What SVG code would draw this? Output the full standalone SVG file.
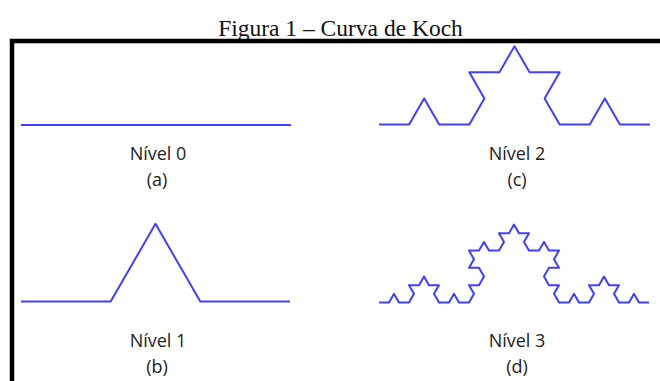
<svg xmlns="http://www.w3.org/2000/svg" width="660" height="381" viewBox="0 0 660 381">
<style>
.title{font-family:"Liberation Serif","Times New Roman",serif;font-size:23.5px;fill:#111;text-anchor:middle}
.lbl{font-family:"Open Sans","Noto Sans",sans-serif;font-size:18px;fill:#222;text-anchor:middle}
.koch{fill:none;stroke:#4040f8;stroke-width:2;stroke-linejoin:round;stroke-linecap:butt;vector-effect:non-scaling-stroke}
</style>
<rect width="660" height="381" fill="#fff"/>
<text class="title" x="340.5" y="36">Figura 1 – Curva de Koch</text>
<rect x="12" y="41" width="700" height="400" fill="none" stroke="#000" stroke-width="4.5"/>
<g id="nivel0">
<path class="koch" d="M21 125H291"/>
<text class="lbl" x="158" y="160">Nível 0</text>
<text class="lbl" x="157" y="185.5">(a)</text>
</g>
<g id="nivel1">
<path class="koch" transform="translate(21 301.5) scale(44.833 77.653)" d="M0 0l2 0 1 -1 1 1 2 0"/>
<text class="lbl" x="158" y="347">Nível 1</text>
<text class="lbl" x="157" y="372.5">(b)</text>
</g>
<g id="nivel2">
<path class="koch" transform="translate(379 124.5) scale(15.056 26.077)" d="M0 0l2 0 1 -1 1 1 2 0 1 -1 -1 -1 2 0 1 -1 1 1 2 0 -1 1 1 1 2 0 1 -1 1 1 2 0"/>
<text class="lbl" x="517" y="160">Nível 2</text>
<text class="lbl" x="517" y="185.5">(c)</text>
</g>
<g id="nivel3">
<path class="koch" transform="translate(379 302.5) scale(5 8.6603)" d="M0 0l2 0 1 -1 1 1 2 0 1 -1 -1 -1 2 0 1 -1 1 1 2 0 -1 1 1 1 2 0 1 -1 1 1 2 0 1 -1 -1 -1 2 0 1 -1 -1 -1 -2 0 1 -1 -1 -1 2 0 1 -1 1 1 2 0 1 -1 -1 -1 2 0 1 -1 1 1 2 0 -1 1 1 1 2 0 1 -1 1 1 2 0 -1 1 1 1 -2 0 -1 1 1 1 2 0 -1 1 1 1 2 0 1 -1 1 1 2 0 1 -1 -1 -1 2 0 1 -1 1 1 2 0 -1 1 1 1 2 0 1 -1 1 1 2 0"/>
<text class="lbl" x="517" y="347">Nível 3</text>
<text class="lbl" x="517" y="372.5">(d)</text>
</g>
</svg>
